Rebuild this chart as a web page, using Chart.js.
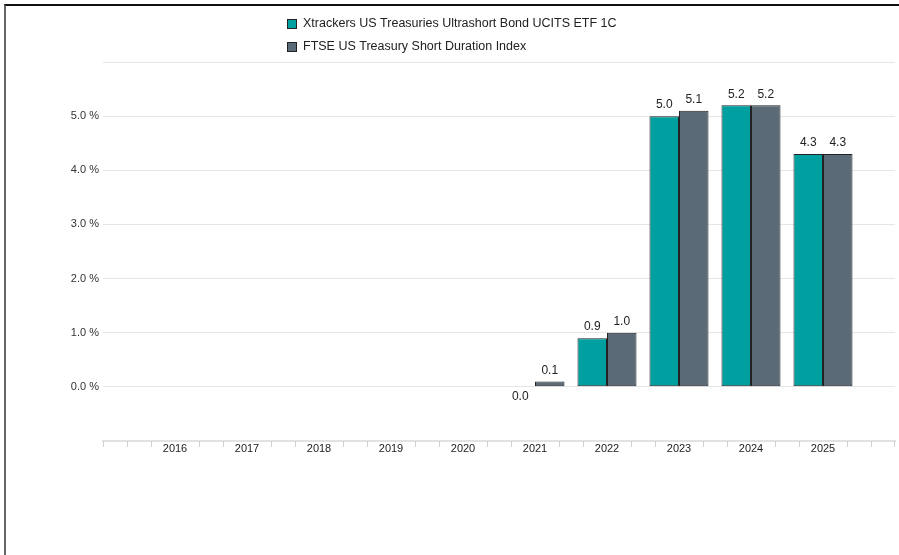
<!DOCTYPE html>
<html>
<head>
<meta charset="utf-8">
<script src="https://cdn.jsdelivr.net/npm/chart.js@4.4.1/dist/chart.umd.min.js"></script>
<style>
  html, body { margin: 0; padding: 0; background: #fff; }
  #wrap { position: relative; width: 899px; height: 555px; overflow: hidden; }
  #c { position: absolute; left: 0; top: 0; }
  #frame { position: absolute; left: 4px; top: 4px; width: 900px; height: 560px;
           border-top: 2px solid #111; border-left: 2px solid #666; box-sizing: border-box; pointer-events: none; }
</style>
</head>
<body>
<div id="wrap">
  <canvas id="c" width="899" height="555"></canvas>
  <div id="frame"></div>
</div>
<script>
const categories = ['2016','2017','2018','2019','2020','2021','2022','2023','2024','2025'];
const fundName = 'Xtrackers US Treasuries Ultrashort Bond UCITS ETF 1C';
const indexName = 'FTSE US Treasury Short Duration Index';
const fundValues  = [null, null, null, null, null, 0.0, 0.9, 5.0, 5.2, 4.3];
const indexValues = [null, null, null, null, null, 0.1, 1.0, 5.1, 5.2, 4.3];
const yTicks = [0, 1, 2, 3, 4, 5];

const TEAL = '#00a0a0';
const GREY = '#5a6a77';
const FONT = "'Liberation Sans', Arial, sans-serif";

// pad categories with an empty slot on each side
const labels = [''].concat(categories, ['']);
const pad = arr => [null].concat(arr, [null]);

const legendPlugin = {
  id: 'stackLegend',
  afterDraw(chart) {
    const ctx = chart.ctx;
    ctx.save();
    ctx.font = '12.5px ' + FONT;
    ctx.textBaseline = 'middle';
    ctx.textAlign = 'left';
    chart.data.datasets.forEach((ds, i) => {
      const y = 24 + i * 23;
      ctx.fillStyle = ds.backgroundColor;
      ctx.fillRect(287, y - 5, 10, 10);
      ctx.strokeStyle = '#222';
      ctx.lineWidth = 1;
      ctx.strokeRect(287.5, y - 4.5, 9, 9);
      ctx.fillStyle = '#222';
      ctx.fillText(ds.label, 303, y);
    });
    ctx.restore();
  }
};

const valueLabelPlugin = {
  id: 'valueLabels',
  afterDatasetsDraw(chart) {
    const ctx = chart.ctx;
    ctx.save();
    ctx.font = '12px ' + FONT;
    ctx.fillStyle = '#222';
    ctx.textAlign = 'center';
    chart.data.datasets.forEach((ds, i) => {
      const meta = chart.getDatasetMeta(i);
      meta.data.forEach((el, j) => {
        const v = ds.data[j];
        if (v === null || v === undefined) return;
        if (v > 0) {
          ctx.textBaseline = 'bottom';
          ctx.fillText(v.toFixed(1), el.x, el.y - 5);
        } else {
          ctx.textBaseline = 'top';
          ctx.fillText(v.toFixed(1), el.x, el.y + 4);
        }
      });
    });
    ctx.restore();
  }
};

const minorTickPlugin = {
  id: 'minorTicks',
  afterDraw(chart) {
    const x = chart.scales.x;
    const ctx = chart.ctx;
    const yTop = chart.chartArea.bottom;
    ctx.save();
    ctx.strokeStyle = '#d0d0d0';
    ctx.lineWidth = 1;
    for (let i = 0; i < labels.length - 1; i++) {
      const p0 = x.getPixelForValue(i);
      const p1 = x.getPixelForValue(i + 1);
      for (let k = 0; k < 3; k++) {
        if (k === 0 && labels[i] !== '') continue;
        const px = Math.round(p0 + (p1 - p0) * k / 3) + 0.5;
        ctx.beginPath();
        ctx.moveTo(px, yTop);
        ctx.lineTo(px, yTop + 6);
        ctx.stroke();
      }
    }
    const pe = Math.round(x.getPixelForValue(labels.length - 1)) - 0.5;
    ctx.beginPath();
    ctx.moveTo(pe, yTop);
    ctx.lineTo(pe, yTop + 6);
    ctx.stroke();
    ctx.restore();
  }
};

new Chart(document.getElementById('c'), {
  type: 'bar',
  data: {
    labels: labels,
    datasets: [
      { label: fundName, data: pad(fundValues), backgroundColor: TEAL, borderColor: '#222', borderWidth: 1,
        borderSkipped: false, categoryPercentage: 0.82, barPercentage: 1.0 },
      { label: indexName, data: pad(indexValues), backgroundColor: GREY, borderColor: '#222', borderWidth: 1,
        borderSkipped: false, categoryPercentage: 0.82, barPercentage: 1.0 }
    ]
  },
  options: {
    responsive: false,
    animation: false,
    devicePixelRatio: 1,
    layout: { padding: { top: 62, right: 4, left: 0, bottom: 0 } },
    plugins: { legend: { display: false }, tooltip: { enabled: false } },
    scales: {
      x: {
        offset: false,
        grid: { display: false, drawTicks: false },
        border: { display: true, color: '#e2e2e2', width: 2 },
        ticks: { font: { family: FONT, size: 11 }, color: '#222', padding: 1, autoSkip: false, maxRotation: 0 },
        afterFit(s) { s.height = 114; }
      },
      y: {
        min: -1, max: 6,
        grid: { color: '#e6e6e6', lineWidth: 1, drawTicks: false },
        border: { display: false },
        ticks: {
          stepSize: 1,
          padding: 4,
          font: { family: FONT, size: 11 },
          color: '#333',
          callback: v => yTicks.includes(v) ? v.toFixed(1) + ' %' : ''
        },
        afterFit(s) { s.width = 103; }
      }
    }
  },
  plugins: [legendPlugin, valueLabelPlugin, minorTickPlugin]
});
</script>
</body>
</html>
